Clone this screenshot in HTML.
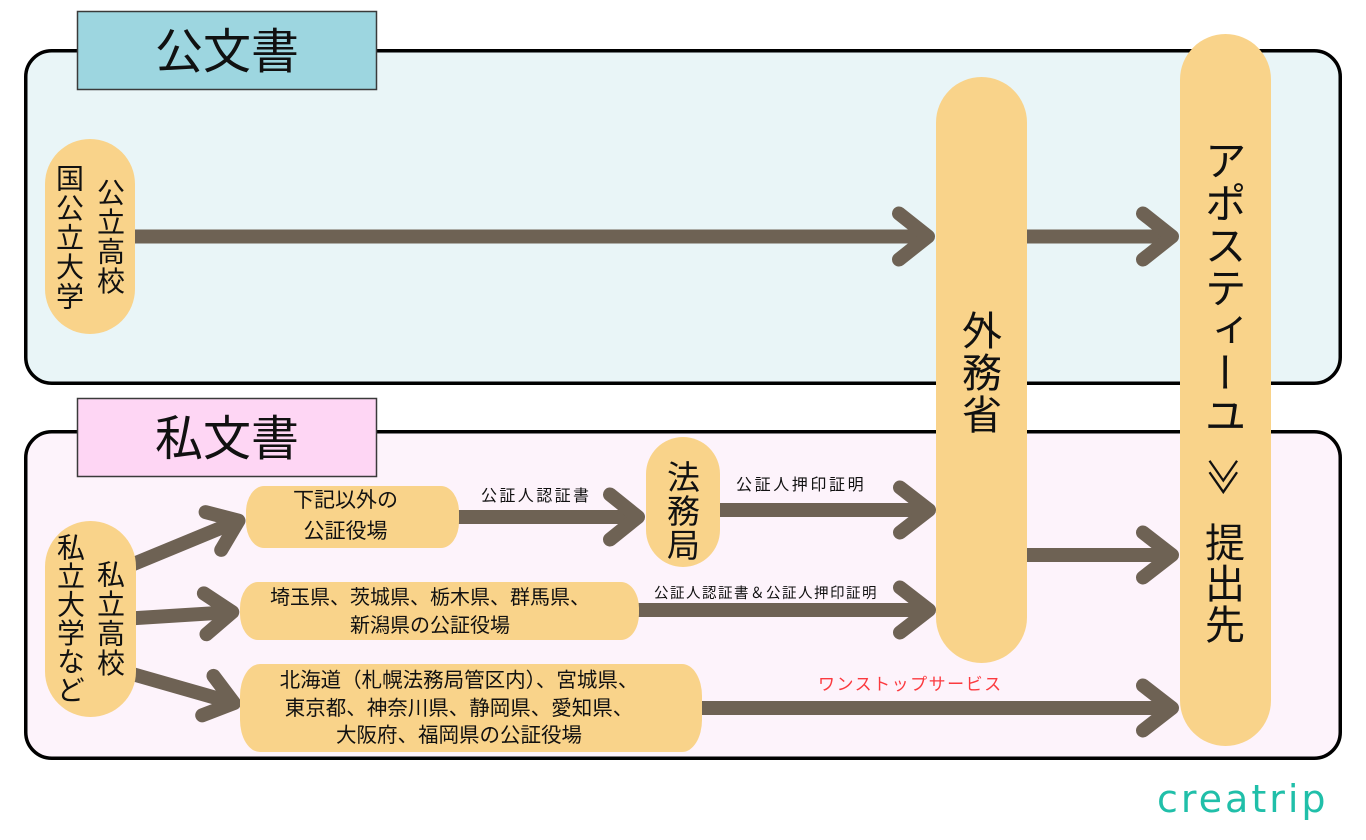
<!DOCTYPE html>
<html>
<head>
<meta charset="utf-8">
<style>
  html,body{margin:0;padding:0;background:#fff;}
  body{width:1366px;height:840px;overflow:hidden;position:relative;
       font-family:"Liberation Sans","Noto Sans CJK JP",sans-serif;color:#111;}
  .abs{position:absolute;white-space:nowrap;}
  .jp{font-family:"Noto Sans CJK JP","Liberation Sans",sans-serif;}
  .v{position:absolute;writing-mode:vertical-rl;line-height:1;white-space:nowrap;
     font-family:"Noto Sans CJK JP",sans-serif;color:#111;}
  .c{text-align:center;}
</style>
</head>
<body>
<svg width="1366" height="840" style="position:absolute;left:0;top:0" xmlns="http://www.w3.org/2000/svg">
  <!-- containers -->
  <rect x="25.75" y="50.75" width="1314.5" height="332.5" rx="26" ry="26" fill="#e9f5f7" stroke="#000" stroke-width="3.5"/>
  <rect x="25.75" y="431.75" width="1314.5" height="326.5" rx="26" ry="26" fill="#fdf3fb" stroke="#000" stroke-width="3.5"/>
  <!-- title boxes -->
  <rect x="77.5" y="11.5" width="299" height="78" fill="#9dd6e0" stroke="#3a3a3a" stroke-width="1.5"/>
  <rect x="77.5" y="398.5" width="299" height="78" fill="#fed6f4" stroke="#3a3a3a" stroke-width="1.5"/>

  <!-- arrows -->
  <g stroke="#6e6254" stroke-width="14" fill="none">
    <line x1="120" y1="236.5" x2="926" y2="236.5"/>
    <line x1="1000" y1="236.5" x2="1170" y2="236.5"/>
    <line x1="450" y1="517" x2="636" y2="517"/>
    <line x1="710" y1="510" x2="927" y2="510"/>
    <line x1="630" y1="610" x2="927" y2="610"/>
    <line x1="1000" y1="555" x2="1170" y2="555"/>
    <line x1="695" y1="708" x2="1170" y2="708"/>
    <line x1="126.8" y1="566.8" x2="236" y2="521.7"/>
    <line x1="127" y1="618.6" x2="230" y2="612.2"/>
    <line x1="126.4" y1="672.3" x2="232" y2="702.5"/>
  </g>
  <g stroke="#6e6254" stroke-width="14" fill="none" stroke-linecap="round" stroke-linejoin="round">
    <polyline points="899,213.5 928,236.5 899,259.5"/>
    <polyline points="1143,213.5 1172,236.5 1143,259.5"/>
    <polyline points="610,494.5 638,517 610,539.5"/>
    <polyline points="900,487.5 929,510 900,532.5"/>
    <polyline points="900,587.5 929,610 900,632.5"/>
    <polyline points="1143,532.5 1172,555 1143,577.5"/>
    <polyline points="1143,685.5 1172,708 1143,730.5"/>
    <polyline points="205.6,512.1 238.5,520.7 221.2,549.9"/>
    <polyline points="203.9,593.4 232.3,612.1 206.5,634.2"/>
    <polyline points="213.5,675.9 234,703.1 202.2,715.3"/>
  </g>

  <!-- nodes -->
  <g fill="#f9d38a">
    <rect x="45" y="139" width="90" height="195" rx="45" ry="45"/>
    <rect x="45" y="521" width="91" height="196" rx="45.5" ry="45.5"/>
    <rect x="936" y="77" width="91" height="586" rx="45.5" ry="45.5"/>
    <rect x="1180" y="34" width="91" height="712" rx="45.5" ry="45.5"/>
    <rect x="646" y="437" width="74" height="130" rx="37" ry="37"/>
    <rect x="246" y="486" width="213" height="62" rx="18" ry="26"/>
    <rect x="240" y="582" width="399" height="58" rx="18" ry="26"/>
    <rect x="240" y="664" width="462" height="88" rx="20" ry="32"/>
  </g>
</svg>

<!-- titles -->
<div class="abs jp c" style="left:77px;top:16.8px;width:300px;font-size:48px;line-height:60px;">公文書</div>
<div class="abs jp c" style="left:77px;top:403.8px;width:300px;font-size:48px;line-height:60px;">私文書</div>

<!-- public node text -->
<div class="v" style="left:56px;top:164px;font-size:28px;letter-spacing:1.5px;">国公立大学</div>
<div class="v" style="left:97px;top:178px;font-size:28px;letter-spacing:1.5px;">公立高校</div>

<!-- private node text -->
<div class="v" style="left:57px;top:533px;font-size:28px;letter-spacing:0.5px;">私立大学など</div>
<div class="v" style="left:97px;top:560px;font-size:28px;letter-spacing:1.5px;">私立高校</div>

<!-- 外務省 -->
<div class="v" style="left:962px;top:309.6px;font-size:40px;letter-spacing:2px;">外務省</div>

<!-- 法務局 -->
<div class="v" style="left:666.5px;top:460px;font-size:33px;letter-spacing:1px;">法務局</div>

<!-- Apostille column -->
<div class="v" style="left:1204px;top:139px;font-size:42px;letter-spacing:0.5px;">アポスティーユ</div>
<div class="abs jp c" style="left:1200px;top:452px;width:50px;height:50px;font-size:38px;line-height:50px;transform:rotate(90deg);">≫</div>
<div class="v" style="left:1205px;top:521.5px;font-size:40px;letter-spacing:1px;">提出先</div>

<!-- rect node texts -->
<div class="abs jp c" style="left:200px;top:484.4px;width:291px;font-size:21px;line-height:31px;">下記以外の<br>公証役場</div>
<div class="abs jp c" style="left:240px;top:581.9px;width:380px;font-size:20px;line-height:28px;">埼玉県、茨城県、栃木県、群馬県、<br>新潟県の公証役場</div>
<div class="abs jp c" style="left:240px;top:665px;width:438px;font-size:20.5px;line-height:27.5px;">北海道（札幌法務局管区内）、宮城県、<br>東京都、神奈川県、静岡県、愛知県、<br>大阪府、福岡県の公証役場</div>

<!-- arrow labels -->
<div class="abs jp" style="left:481px;top:484.1px;font-size:16px;line-height:20px;letter-spacing:2.4px;">公証人認証書</div>
<div class="abs jp" style="left:736px;top:473.1px;font-size:16px;line-height:20px;letter-spacing:2.6px;">公証人押印証明</div>
<div class="abs jp" style="left:654px;top:582.7px;font-size:14.5px;line-height:20px;letter-spacing:1.5px;">公証人認証書＆公証人押印証明</div>
<div class="abs jp" style="left:818px;top:673px;font-size:17px;line-height:20px;letter-spacing:1.5px;color:#fb3a3f;">ワンストップサービス</div>

<!-- logo -->
<div class="abs" style="left:1157px;top:780px;font-family:'DejaVu Sans',sans-serif;font-size:38px;line-height:38px;letter-spacing:3px;color:#20bfa9;">creatrip</div>
</body>
</html>
